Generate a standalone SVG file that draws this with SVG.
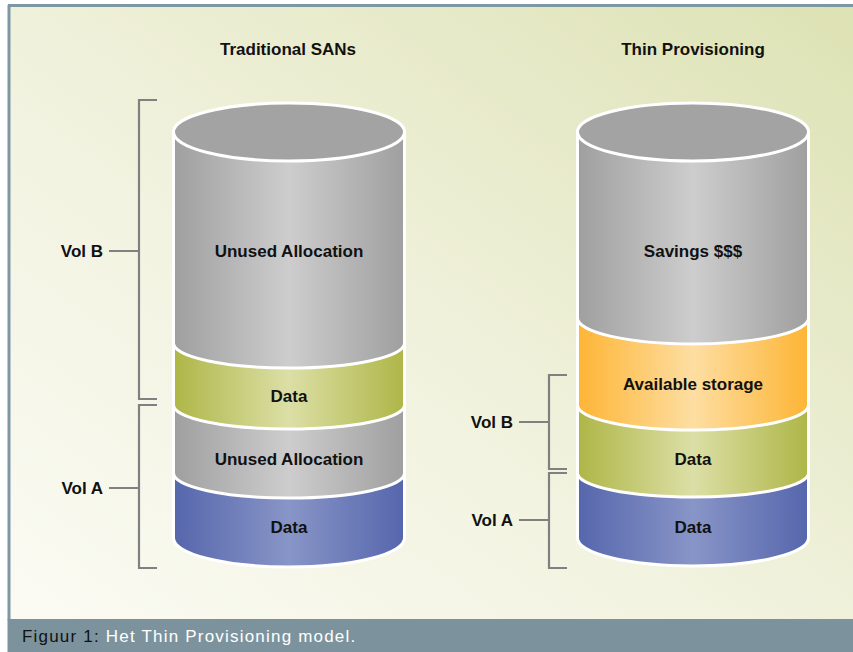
<svg xmlns="http://www.w3.org/2000/svg" width="853" height="652" viewBox="0 0 853 652">
<defs>
<linearGradient id="bg" x1="0" y1="1" x2="1" y2="0">
<stop offset="0" stop-color="#fbfbf4"/>
<stop offset="0.45" stop-color="#f1f2de"/>
<stop offset="1" stop-color="#dde2b4"/>
</linearGradient>
<linearGradient id="grey" x1="0" y1="0" x2="1" y2="0">
<stop offset="0" stop-color="#9f9f9f"/>
<stop offset="0.5" stop-color="#cdcdcd"/>
<stop offset="1" stop-color="#9f9f9f"/>
</linearGradient>
<linearGradient id="green" x1="0" y1="0" x2="1" y2="0">
<stop offset="0" stop-color="#aeb647"/>
<stop offset="0.5" stop-color="#dcdfa6"/>
<stop offset="1" stop-color="#aeb647"/>
</linearGradient>
<linearGradient id="blue" x1="0" y1="0" x2="1" y2="0">
<stop offset="0" stop-color="#5566ac"/>
<stop offset="0.5" stop-color="#8895c7"/>
<stop offset="1" stop-color="#5566ac"/>
</linearGradient>
<linearGradient id="orange" x1="0" y1="0" x2="1" y2="0">
<stop offset="0" stop-color="#fdb535"/>
<stop offset="0.5" stop-color="#fddea2"/>
<stop offset="1" stop-color="#fdb535"/>
</linearGradient>
<style>
.band{stroke:#ffffff;stroke-width:3;}
.topc{fill:#a3a3a3;stroke:#ffffff;stroke-width:3;}
.t{font-family:"Liberation Sans",Arial,sans-serif;font-weight:bold;font-size:17px;fill:#111111;text-anchor:middle;}
.lab{font-family:"Liberation Sans",Arial,sans-serif;font-weight:bold;font-size:17px;fill:#111111;text-anchor:end;}
.br{fill:none;stroke:#808080;stroke-width:2.2;}
.cap{font-family:"Liberation Sans",Arial,sans-serif;font-size:17px;letter-spacing:1.2px;}
</style>
</defs>
<rect x="0" y="0" width="853" height="652" fill="#ffffff"/>
<rect x="9" y="7" width="844" height="612" fill="url(#bg)"/>
<line x1="8" y1="5.5" x2="853" y2="5.5" stroke="#7f97a3" stroke-width="3"/>
<line x1="9" y1="5" x2="9" y2="620" stroke="#7f97a3" stroke-width="3"/>
<rect x="7.5" y="619" width="845.5" height="33" fill="#7c939d"/>

<g id="title-left"><text class="t" x="288" y="55">Traditional SANs</text></g>
<g id="title-right"><text class="t" x="693" y="55">Thin Provisioning</text></g>

<g id="cylinder-left">
<path class="band" fill="url(#blue)" d="M173.5,473 V538 A115.5,29 0 0 0 404.5,538 V473 Z"/>
<path class="band" fill="url(#grey)" d="M173.5,405 V473 A115.5,25 0 0 0 404.5,473 V405 Z"/>
<path class="band" fill="url(#green)" d="M173.5,343 V405 A115.5,24 0 0 0 404.5,405 V343 Z"/>
<path class="band" fill="url(#grey)" d="M173.5,132 V343 A115.5,25 0 0 0 404.5,343 V132 Z"/>
<ellipse class="topc" cx="289" cy="132" rx="115.5" ry="29"/>
<text class="t" x="289" y="257">Unused Allocation</text>
<text class="t" x="289" y="402">Data</text>
<text class="t" x="289" y="465">Unused Allocation</text>
<text class="t" x="289" y="533">Data</text>
</g>

<g id="cylinder-right">
<path class="band" fill="url(#blue)" d="M577.5,473 V538 A115.5,28 0 0 0 808.5,538 V473 Z"/>
<path class="band" fill="url(#green)" d="M577.5,405 V473 A115.5,24 0 0 0 808.5,473 V405 Z"/>
<path class="band" fill="url(#orange)" d="M577.5,318 V405 A115.5,25 0 0 0 808.5,405 V318 Z"/>
<path class="band" fill="url(#grey)" d="M577.5,132 V318 A115.5,26 0 0 0 808.5,318 V132 Z"/>
<ellipse class="topc" cx="693" cy="132" rx="115.5" ry="29"/>
<text class="t" x="693" y="257">Savings $$$</text>
<text class="t" x="693" y="390">Available storage</text>
<text class="t" x="693" y="465">Data</text>
<text class="t" x="693" y="533">Data</text>
</g>

<g id="connectors">
<path class="br" d="M157,100 H139 V399 H157 M109,251 H139"/>
<path class="br" d="M157,405 H139 V568 H157 M109,488 H139"/>
<path class="br" d="M567,375 H549 V469 H567 M519,422 H549"/>
<path class="br" d="M567,473 H549 V568 H567 M519,520 H549"/>
</g>

<g id="labels">
<text class="lab" x="103" y="257">Vol B</text>
<text class="lab" x="103" y="494">Vol A</text>
<text class="lab" x="513" y="428">Vol B</text>
<text class="lab" x="513" y="526">Vol A</text>
</g>

<g id="caption">
<text class="cap" x="22" y="642"><tspan fill="#111111">Figuur 1:</tspan><tspan fill="#ffffff"> Het Thin Provisioning model.</tspan></text>
</g>
</svg>
